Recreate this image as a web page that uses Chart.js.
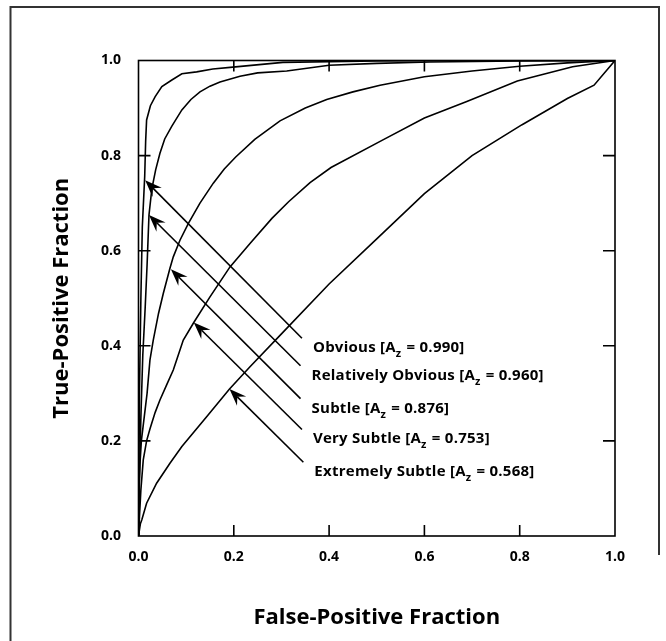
<!DOCTYPE html>
<html>
<head>
<meta charset="utf-8">
<script src="https://cdn.jsdelivr.net/npm/chart.js@4.4.1/dist/chart.umd.min.js"></script>
<style>
  html, body { margin: 0; padding: 0; background: #fff; }
</style>
</head>
<body>
<canvas id="chart" width="666" height="641"></canvas>
<script>
// tick values shared by both axes
const tickValues = [0, 0.2, 0.4, 0.6, 0.8, 1.0];

// ROC curves (false-positive fraction, true-positive fraction)
const obviousFpf = [0, 0.002, 0.005, 0.008, 0.013, 0.015, 0.017, 0.025, 0.035, 0.049, 0.07, 0.091, 0.122, 0.156, 0.198, 0.303, 0.5, 0.7, 1];
const obviousTpf = [0, 0.3, 0.5, 0.65, 0.756, 0.83, 0.875, 0.905, 0.924, 0.945, 0.959, 0.972, 0.976, 0.982, 0.986, 0.996, 0.999, 1, 1];

const relObviousFpf = [0, 0.002, 0.005, 0.009, 0.014, 0.018, 0.022, 0.028, 0.036, 0.045, 0.055, 0.07, 0.091, 0.11, 0.129, 0.15, 0.171, 0.213, 0.25, 0.311, 0.4, 0.5, 0.612, 0.8, 1];
const relObviousTpf = [0, 0.12, 0.25, 0.38, 0.48, 0.57, 0.675, 0.73, 0.77, 0.805, 0.835, 0.862, 0.896, 0.918, 0.934, 0.946, 0.955, 0.967, 0.974, 0.978, 0.99, 0.994, 0.997, 0.999, 1];

const subtleFpf = [0, 0.001, 0.003, 0.006, 0.012, 0.018, 0.024, 0.031, 0.042, 0.052, 0.066, 0.073, 0.087, 0.105, 0.129, 0.157, 0.18, 0.204, 0.244, 0.297, 0.35, 0.395, 0.45, 0.507, 0.6, 0.7, 0.8, 0.9, 1];
const subtleTpf = [0, 0.1, 0.15, 0.2, 0.25, 0.3, 0.37, 0.412, 0.468, 0.51, 0.563, 0.587, 0.622, 0.658, 0.7, 0.742, 0.772, 0.797, 0.834, 0.873, 0.9, 0.918, 0.934, 0.948, 0.966, 0.978, 0.988, 0.995, 1];

const verySubtleFpf = [0, 0.002, 0.005, 0.01, 0.017, 0.024, 0.035, 0.045, 0.06, 0.073, 0.08, 0.094, 0.116, 0.15, 0.192, 0.234, 0.28, 0.315, 0.36, 0.404, 0.511, 0.6, 0.689, 0.795, 0.911, 1];
const verySubtleTpf = [0, 0.04, 0.097, 0.16, 0.2, 0.225, 0.26, 0.286, 0.32, 0.349, 0.37, 0.412, 0.449, 0.503, 0.566, 0.615, 0.668, 0.703, 0.743, 0.775, 0.832, 0.879, 0.914, 0.957, 0.987, 1];

const extSubtleFpf = [0, 0.004, 0.007, 0.017, 0.038, 0.066, 0.091, 0.143, 0.191, 0.234, 0.3, 0.4, 0.5, 0.6, 0.7, 0.805, 0.9, 0.956, 1];
const extSubtleTpf = [0, 0.026, 0.034, 0.069, 0.111, 0.153, 0.188, 0.251, 0.309, 0.356, 0.425, 0.53, 0.625, 0.72, 0.8, 0.865, 0.92, 0.948, 1];

// labels and Az values
const curveNames = ['Obvious', 'Relatively Obvious', 'Subtle', 'Very Subtle', 'Extremely Subtle'];
const azValues = [0.990, 0.960, 0.876, 0.753, 0.568];

// arrow ends in data units (tip on the curve, tail by the label)
const arrowTipX = [0.014, 0.022, 0.068, 0.116, 0.191];
const arrowTipY = [0.748, 0.675, 0.561, 0.449, 0.309];
const arrowTailX = [0.343, 0.34, 0.34, 0.343, 0.346];
const arrowTailY = [0.416, 0.358, 0.289, 0.224, 0.155];

const curves = [
  [obviousFpf, obviousTpf],
  [relObviousFpf, relObviousTpf],
  [subtleFpf, subtleTpf],
  [verySubtleFpf, verySubtleTpf],
  [extSubtleFpf, extSubtleTpf]
];

const FONT = '"Open Sans", Lato, sans-serif';

const datasets = curves.map(([fx, ty], i) => ({
  label: curveNames[i],
  data: fx.map((v, j) => ({ x: v, y: ty[j] })),
  showLine: true,
  borderColor: '#000',
  borderWidth: 1.6,
  pointRadius: 0,
  tension: 0,
  fill: false
}));

// frame, inward ticks, outer border
const framePlugin = {
  id: 'framePlugin',
  beforeDraw(chart) {
    const ctx = chart.ctx;
    ctx.save();
    ctx.strokeStyle = '#333';
    ctx.lineWidth = 2;
    ctx.beginPath();
    ctx.moveTo(10.5, 641);
    ctx.lineTo(10.5, 7);
    ctx.lineTo(659, 7);
    ctx.lineTo(659, 555);
    ctx.stroke();
    ctx.restore();
  },
  afterDatasetsDraw(chart) {
    const { ctx, chartArea: a, scales: { x, y } } = chart;
    ctx.save();
    ctx.strokeStyle = '#000';
    ctx.lineWidth = 1.6;
    ctx.strokeRect(a.left, a.top, a.right - a.left, a.bottom - a.top);
    ctx.beginPath();
    tickValues.slice(1, -1).forEach(v => {
      const px = x.getPixelForValue(v);
      const py = y.getPixelForValue(v);
      ctx.moveTo(px, a.bottom); ctx.lineTo(px, a.bottom - 11);
      ctx.moveTo(px, a.top); ctx.lineTo(px, a.top + 11);
      ctx.moveTo(a.left, py); ctx.lineTo(a.left + 12, py);
      ctx.moveTo(a.right, py); ctx.lineTo(a.right - 12, py);
    });
    ctx.stroke();

    // arrows and labels
    arrowTipX.forEach((_, i) => {
      const tx = x.getPixelForValue(arrowTipX[i]);
      const ty = y.getPixelForValue(arrowTipY[i]);
      const sx = x.getPixelForValue(arrowTailX[i]);
      const sy = y.getPixelForValue(arrowTailY[i]);
      const ang = Math.atan2(sy - ty, sx - tx);
      const c = Math.cos(ang), s = Math.sin(ang);
      const len = 17, half = 6.5, notch = 11;
      ctx.beginPath();
      ctx.moveTo(sx, sy);
      ctx.lineTo(tx + c * notch, ty + s * notch);
      ctx.stroke();
      ctx.beginPath();
      ctx.moveTo(tx, ty);
      ctx.lineTo(tx + c * len - s * half, ty + s * len + c * half);
      ctx.lineTo(tx + c * notch, ty + s * notch);
      ctx.lineTo(tx + c * len + s * half, ty + s * len - c * half);
      ctx.closePath();
      ctx.fillStyle = '#000';
      ctx.fill();

      // label with subscript
      let lx = sx + 11;
      const ly = sy + 14;
      ctx.fillStyle = '#000';
      ctx.textBaseline = 'alphabetic';
      ctx.textAlign = 'left';
      ctx.letterSpacing = '0.25px';
      ctx.font = 'bold 15px ' + FONT;
      const head = curveNames[i] + ' [A';
      ctx.fillText(head, lx, ly);
      lx += ctx.measureText(head).width;
      ctx.font = 'bold 11px ' + FONT;
      ctx.fillText('z', lx, ly + 5);
      lx += ctx.measureText('z').width + 1;
      ctx.font = 'bold 15px ' + FONT;
      ctx.fillText(' = ' + azValues[i].toFixed(3) + ']', lx, ly);
    });
    ctx.restore();
  }
};

const tickFont = { family: FONT, size: 14, weight: 'bold' };
const titleFont = { family: FONT, size: 22, weight: 'bold' };

new Chart(document.getElementById('chart').getContext('2d'), {
  type: 'scatter',
  data: { datasets },
  options: {
    responsive: false,
    animation: false,
    devicePixelRatio: 1,
    layout: { padding: { top: 60.5, right: 51, left: 0, bottom: 0 } },
    plugins: { legend: { display: false }, tooltip: { enabled: false } },
    scales: {
      x: {
        type: 'linear', position: 'bottom', min: 0, max: 1,
        afterBuildTicks: s => { s.ticks = tickValues.map(v => ({ value: v })); },
        afterFit: s => { s.height = 105; },
        ticks: { font: tickFont, color: '#000', padding: 13, maxRotation: 0,
                 callback: v => v.toFixed(1) },
        grid: { display: false, drawTicks: false },
        border: { display: false },
        title: { display: true, text: 'False-Positive Fraction', color: '#000',
                 font: titleFont, padding: { top: 0, bottom: 10 } }
      },
      y: {
        type: 'linear', position: 'left', min: 0, max: 1,
        afterBuildTicks: s => { s.ticks = tickValues.map(v => ({ value: v })); },
        afterFit: s => { s.width = 138.5; },
        ticks: { font: tickFont, color: '#000', padding: 17.5,
                 callback: v => v.toFixed(1) },
        grid: { display: false, drawTicks: false },
        border: { display: false },
        title: { display: true, text: 'True-Positive Fraction', color: '#000',
                 font: titleFont, padding: { top: 49, bottom: 0 } }
      }
    }
  },
  plugins: [framePlugin]
});
</script>
</body>
</html>
